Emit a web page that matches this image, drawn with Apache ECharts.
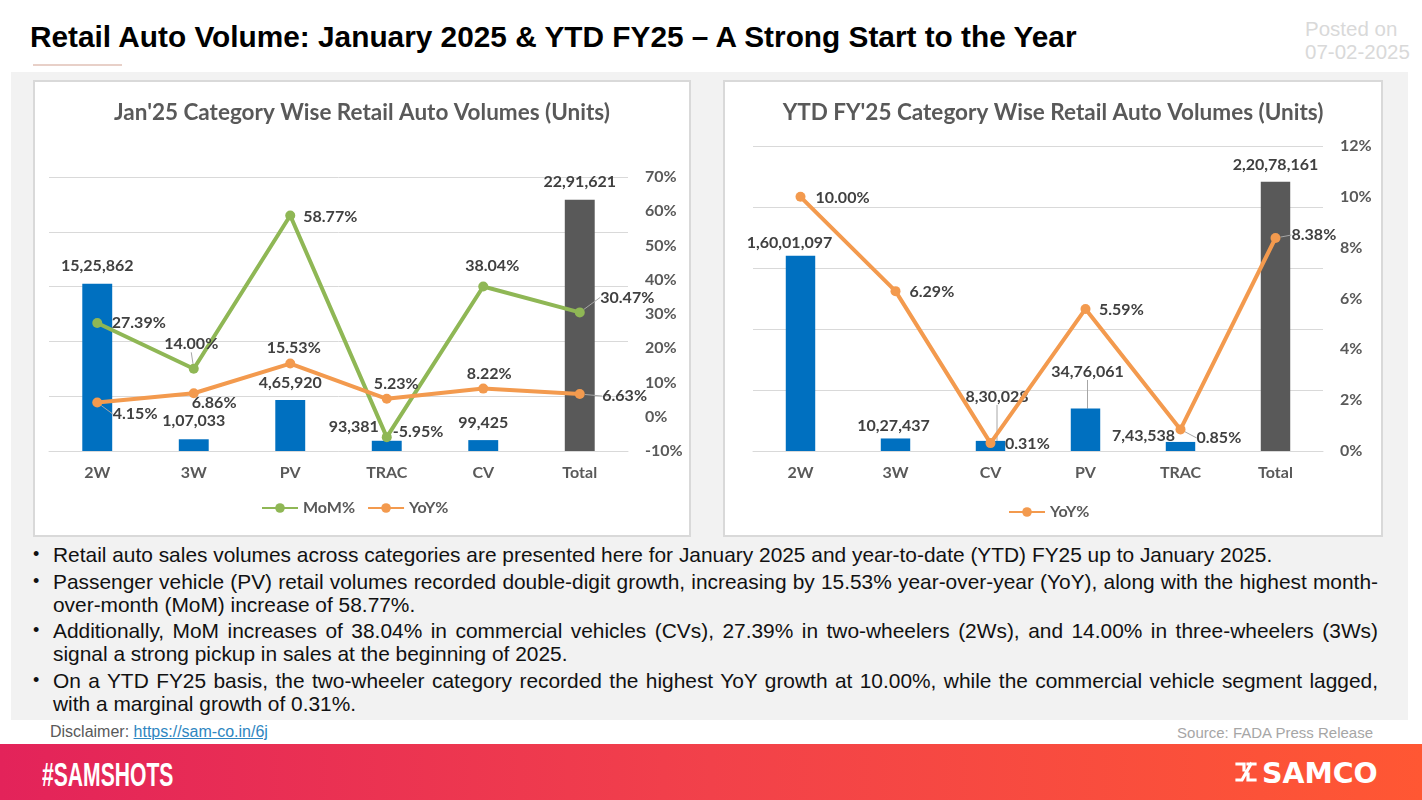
<!DOCTYPE html>
<html>
<head>
<meta charset="utf-8">
<script src="https://cdn.jsdelivr.net/npm/echarts@6/dist/echarts.min.js"></script>
<style>
  html, body { margin:0; padding:0; background:#fff; }
  body { width:1422px; height:800px; position:relative; overflow:hidden; font-family:"Liberation Sans", Arial, sans-serif; }
  .abs { position:absolute; }
  #title { left:30px; top:20px; font-weight:bold; font-size:29.8px; color:#000; white-space:nowrap; }
  #uline { left:33px; top:64px; width:89px; height:2px; background:#e8d0c8; }
  #posted { left:1305px; top:17px; text-align:left; color:#d9d9d9; font-size:20.5px; line-height:23px; }
  #panel { left:11px; top:72px; width:1397px; height:648px; background:#f2f2f2; }
  .box { border:2px solid #d9d9d9; box-sizing:border-box; pointer-events:none; }
  .chart { background:#fff; }
  #bullets { left:33px; top:543px; width:1345px; font-size:20.9px; color:#111; }
  .b { position:relative; padding-left:20px; margin-bottom:3.5px; }
  .b:before { content:"\2022"; position:absolute; left:0; top:0; line-height:23px; font-size:18px; }
  .ln { display:block; line-height:23px; white-space:nowrap; }
  .j { text-align:justify; text-align-last:justify; }
  #disc { left:50px; top:723px; font-size:16px; color:#595959; }
  #disc a { color:#2e86c1; text-decoration:underline; }
  #src { right:49px; top:724px; font-size:15px; color:#a6a6a6; }
  #footer { left:0; top:744px; width:1422px; height:56px; background:linear-gradient(90deg,#e3235a 0%,#f2414a 50%,#ff5733 100%); }
  #sams { left:42px; top:756px; font-size:33px; font-weight:bold; color:#fff; transform:scaleX(0.64); transform-origin:left top; }
  #samco { left:1262px; top:756px; font-size:29px; font-weight:900; color:#fff; font-family:"DejaVu Sans", sans-serif; transform:scaleX(0.98); transform-origin:left top;}
  #logo { left:1234px; top:761px; }
</style>
</head>
<body>
<div id="title" class="abs">Retail Auto Volume: January 2025 &amp; YTD FY25 – A Strong Start to the Year</div>
<div id="uline" class="abs"></div>
<div id="posted" class="abs">Posted on<br>07-02-2025</div>
<div id="panel" class="abs"></div>

<div id="c1" class="abs chart" style="left:33px;top:80px;width:658px;height:457px;"></div>
<div class="abs box" style="left:33px;top:80px;width:658px;height:457px;"></div>
<div id="c2" class="abs chart" style="left:723px;top:80px;width:660px;height:457px;"></div>
<div class="abs box" style="left:723px;top:80px;width:660px;height:457px;"></div>

<div id="bullets" class="abs">
  <div class="b"><span class="ln">Retail auto sales volumes across categories are presented here for January 2025 and year-to-date (YTD) FY25 up to January 2025.</span></div>
  <div class="b"><span class="ln j">Passenger vehicle (PV) retail volumes recorded double-digit growth, increasing by 15.53% year-over-year (YoY), along with the highest month-</span><span class="ln">over-month (MoM) increase of 58.77%.</span></div>
  <div class="b"><span class="ln j">Additionally, MoM increases of 38.04% in commercial vehicles (CVs), 27.39% in two-wheelers (2Ws), and 14.00% in three-wheelers (3Ws)</span><span class="ln">signal a strong pickup in sales at the beginning of 2025.</span></div>
  <div class="b"><span class="ln j">On a YTD FY25 basis, the two-wheeler category recorded the highest YoY growth at 10.00%, while the commercial vehicle segment lagged,</span><span class="ln">with a marginal growth of 0.31%.</span></div>
</div>

<div id="disc" class="abs">Disclaimer: <a>https://sam-co.in/6j</a></div>
<div id="src" class="abs">Source: FADA Press Release</div>
<div id="footer" class="abs"></div>
<div id="sams" class="abs">#SAMSHOTS</div>
<svg id="logo" class="abs" width="24" height="22" viewBox="0 0 24 22">
  <path d="M3 3 L10 3 L10 9 M14 3 L21 3 M17 3 L8 19 L3 19 M14 13 L14 19 L21 19" stroke="#fff" stroke-width="3.2" fill="none" stroke-linecap="square"/>
</svg>
<div id="samco" class="abs">SAMCO</div>

<script>
// ---------- DATA ----------
const categoriesJan = ['2W', '3W', 'PV', 'TRAC', 'CV', 'Total'];
const volumesJan    = [1525862, 107033, 465920, 93381, 99425, 2291621];
const momJan        = [27.39, 14.00, 58.77, -5.95, 38.04, 30.47];
const yoyJan        = [4.15, 6.86, 15.53, 5.23, 8.22, 6.63];

const categoriesYtd = ['2W', '3W', 'CV', 'PV', 'TRAC', 'Total'];
const volumesYtd    = [16001097, 1027437, 830028, 3476061, 743538, 22078161];
const yoyYtd        = [10.00, 6.29, 0.31, 5.59, 0.85, 8.38];

// axis ranges (tick labels)
const janVolAxis = { min: 0, max: 2500000, interval: 500000 };
const janPctAxis = { min: -10, max: 70, interval: 10 };
const ytdVolAxis = { min: 0, max: 25000000, interval: 5000000 };
const ytdPctAxis = { min: 0, max: 12, interval: 2 };

// ---------- LABEL PLACEMENT (style) ----------
const janVolLabel = [{dx:0,dy:-5},{dx:0,dy:-5},{dx:0,dy:-4},{dx:-33,dy:-1},{dx:0,dy:-4},{dx:0,dy:-5}];
const janMomLabel = [{pos:'right',dx:5,dy:0},{pos:'top',dx:-2.5,dy:-7,line:true},{pos:'right',dx:3.5,dy:1},{pos:'right',dx:-3.5,dy:-5},{pos:'top',dx:9,dy:-3},{pos:'right',dx:11,dy:-15,line:true}];
const janYoyLabel = [{pos:'right',dx:6,dy:11.5,line:true},{pos:'right',dx:-11.5,dy:10},{pos:'top',dx:3.5,dy:2},{pos:'top',dx:9.5,dy:2.5},{pos:'top',dx:6,dy:3},{pos:'right',dx:13,dy:2,line:true}];
const ytdVolLabel = [{dx:-11,dy:0},{dx:-2,dy:0},{dx:6.5,dy:-31,line:true},{dx:2,dy:-23.6,line:true},{dx:-37,dy:6.7},{dx:0,dy:-3.6}];
const ytdYoyLabel = [{pos:'right',dx:5.5,dy:1},{pos:'right',dx:4.5,dy:1},{pos:'right',dx:5,dy:1},{pos:'right',dx:4,dy:1},{pos:'right',dx:6.5,dy:8.5,line:true},{pos:'right',dx:6.5,dy:-3,line:true}];

const BLUE = '#0070C0', GRAY = '#595959', GREEN = '#8FB755', ORANGE = '#F39A4E';
const FONT = 'Lato';
const TXT = '#404040', AX = '#595959';

function inr(n) {
  const s = String(Math.round(n));
  if (s.length <= 3) return s;
  const last3 = s.slice(-3);
  const rest = s.slice(0, -3).replace(/\B(?=(\d{2})+(?!\d))/g, ',');
  return rest + ',' + last3;
}
const pct = v => v.toFixed(2) + '%';

function barData(vals, cats, cfg) {
  return vals.map((v, i) => ({
    value: v,
    itemStyle: { color: cats[i] === 'Total' ? GRAY : BLUE },
    labelLine: { show: !!cfg[i].line }
  }));
}
function lineData(vals, cfg) {
  return vals.map((v, i) => ({
    value: v,
    label: { position: cfg[i].pos },
    labelLine: { show: !!cfg[i].line }
  }));
}
const layoutFrom = cfg => (p => ({ dx: cfg[p.dataIndex].dx, dy: cfg[p.dataIndex].dy }));

function baseOption(title, cats, volAxis, pctAxis, gridLeft, gridRight, gridTop) {
  return {
    animation: false,
    title: { text: title, left: 'center', top: 16,
      textStyle: { fontFamily: FONT, fontSize: 22.5, fontWeight: 'bold', color: AX } },
    grid: { left: gridLeft, right: gridRight, top: gridTop, bottom: 86, containLabel: false, outerBoundsMode: 'none' },
    xAxis: {
      type: 'category', data: cats,
      axisLine: { show: true, lineStyle: { color: '#d9d9d9' } },
      axisTick: { show: false },
      axisLabel: { margin: 14, fontFamily: FONT, fontSize: 16, color: AX, fontWeight: 'bold' }
    },
    yAxis: [
      { type: 'value', min: volAxis.min, max: volAxis.max, interval: volAxis.interval,
        axisLabel: { show: false }, axisLine: { show: false }, axisTick: { show: false },
        splitLine: { show: true, lineStyle: { color: '#d9d9d9', width: 1 } } },
      { type: 'value', position: 'right', min: pctAxis.min, max: pctAxis.max, interval: pctAxis.interval,
        axisLine: { show: false }, axisTick: { show: false }, splitLine: { show: false },
        axisLabel: { formatter: '{value}%', margin: 17, fontFamily: FONT, fontSize: 16, color: AX, fontWeight: 'bold' } }
    ],
    legend: {
      itemWidth: 36, itemHeight: 12, itemGap: 12,
      textStyle: { fontFamily: FONT, fontSize: 16, color: AX, fontWeight: 'bold' }
    }
  };
}

const labelText = { fontFamily: FONT, fontSize: 16, color: TXT, fontWeight: 'bold' };
const guide = { lineStyle: { color: '#a6a6a6', width: 1 }, length2: 0 };

function barSeries(vals, cats, cfg) {
  return {
    name: 'Volume', type: 'bar', yAxisIndex: 0, barWidth: '31%',
    data: barData(vals, cats, cfg),
    label: Object.assign({ show: true, position: 'top', distance: 5, formatter: p => inr(p.value) }, labelText),
    labelLine: guide,
    labelLayout: layoutFrom(cfg),
    z: 2
  };
}
function lineSeries(name, vals, color, cfg) {
  return {
    name: name, type: 'line', yAxisIndex: 1,
    data: lineData(vals, cfg),
    symbol: 'circle', symbolSize: 10,
    lineStyle: { color: color, width: 4 },
    itemStyle: { color: color },
    label: Object.assign({ show: true, distance: 4.5, formatter: p => pct(p.value) }, labelText),
    labelLine: guide,
    labelLayout: layoutFrom(cfg),
    z: 5
  };
}

// ---------- Chart 1 ----------
const o1 = baseOption("Jan'25 Category Wise Retail Auto Volumes (Units)", categoriesJan, janVolAxis, janPctAxis, 16, 63, 97);
o1.legend.data = ['MoM%', 'YoY%'];
o1.legend.left = 223; o1.legend.top = 415;
o1.series = [
  barSeries(volumesJan, categoriesJan, janVolLabel),
  lineSeries('MoM%', momJan, GREEN, janMomLabel),
  lineSeries('YoY%', yoyJan, ORANGE, janYoyLabel)
];
echarts.init(document.getElementById('c1'), null, { renderer: 'canvas' }).setOption(o1);

// ---------- Chart 2 ----------
const o2 = baseOption("YTD FY'25 Category Wise Retail Auto Volumes (Units)", categoriesYtd, ytdVolAxis, ytdPctAxis, 30, 60, 66);
o2.legend.data = ['YoY%'];
o2.legend.left = 280; o2.legend.top = 419;
o2.series = [
  barSeries(volumesYtd, categoriesYtd, ytdVolLabel),
  lineSeries('YoY%', yoyYtd, ORANGE, ytdYoyLabel)
];
echarts.init(document.getElementById('c2'), null, { renderer: 'canvas' }).setOption(o2);
</script>
</body>
</html>
